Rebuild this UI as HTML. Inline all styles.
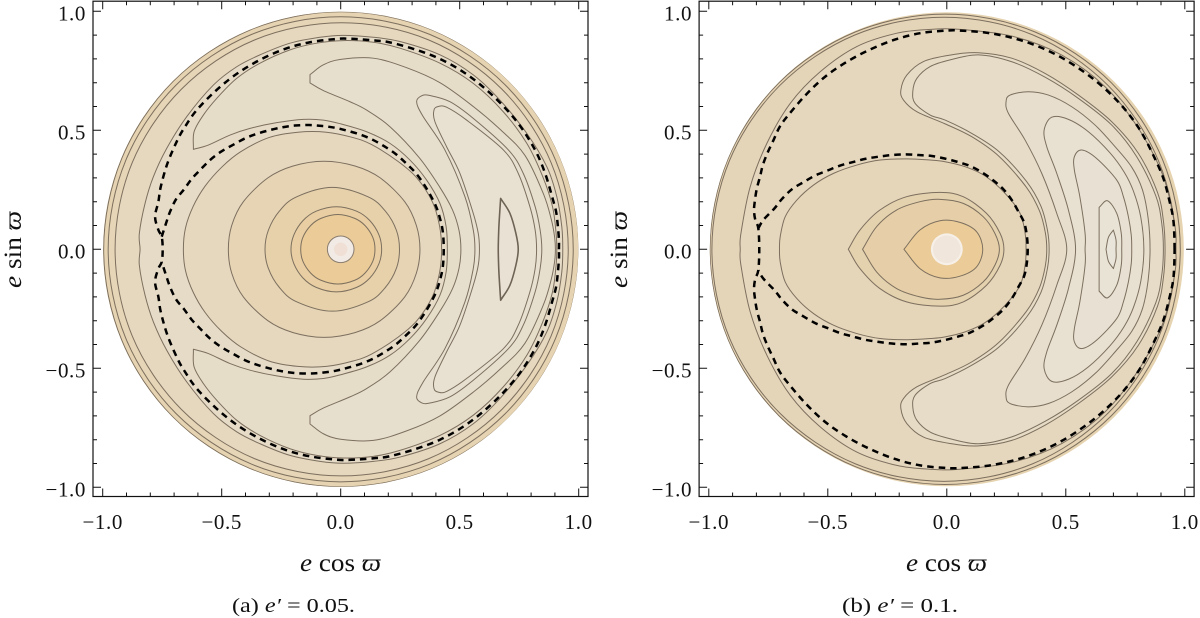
<!DOCTYPE html>
<html lang="en">
<head>
<meta charset="utf-8">
<title>Contour plots of e cos ϖ vs e sin ϖ</title>
<style>
html,body{margin:0;padding:0;background:#fff;width:1200px;height:618px;overflow:hidden}
svg{display:block}
text{font-family:"Liberation Serif","DejaVu Serif",serif;fill:#111}
</style>
</head>
<body>
<svg id="chart" xmlns="http://www.w3.org/2000/svg" width="1200" height="618" viewBox="0 0 1200 618">
  <defs>
    <clipPath id="disc-a"><circle cx="340.7" cy="249.3" r="237.6"/></clipPath>
    <clipPath id="disc-b"><circle cx="946.8" cy="249.3" r="237"/></clipPath>
  </defs>
  <g id="panel-a"></g>
  <g id="panel-b"></g>
  <text x="300" y="571" font-size="25" textLength="81" lengthAdjust="spacingAndGlyphs"><tspan font-style="italic">e</tspan> cos <tspan font-style="italic">ϖ</tspan></text>
  <text x="906" y="571" font-size="25" textLength="81" lengthAdjust="spacingAndGlyphs"><tspan font-style="italic">e</tspan> cos <tspan font-style="italic">ϖ</tspan></text>
  <text transform="translate(21,288) rotate(-90)" font-size="25" textLength="77" lengthAdjust="spacingAndGlyphs"><tspan font-style="italic">e</tspan> sin <tspan font-style="italic">ϖ</tspan></text>
  <text transform="translate(627,288) rotate(-90)" font-size="25" textLength="77" lengthAdjust="spacingAndGlyphs"><tspan font-style="italic">e</tspan> sin <tspan font-style="italic">ϖ</tspan></text>
  <text x="232" y="612" font-size="20" textLength="123" lengthAdjust="spacingAndGlyphs">(a) <tspan font-style="italic">e′</tspan> = 0.05.</text>
  <text x="842" y="612" font-size="20" textLength="116" lengthAdjust="spacingAndGlyphs">(b) <tspan font-style="italic">e′</tspan> = 0.1.</text>
</svg>
<script>
// ---- Axis data ----
const tickValues = [-1,-0.9,-0.8,-0.7,-0.6,-0.5,-0.4,-0.3,-0.2,-0.1,0,0.1,0.2,0.3,0.4,0.5,0.6,0.7,0.8,0.9,1];
const labelValues = [-1,-0.5,0,0.5,1];
const tickLabels = ['\u22121.0','\u22120.5','0.0','0.5','1.0'];

// ---- Panel (a) e' = 0.05: upper-half contours in data units [e cos w, e sin w] ----
const aRim = [[1,0],[.924,.382],[.708,.706],[.384,.922],[.002,.998],[-.38,.922],[-.704,.706],[-.92,.382],[-.996,0]];
const aRing1 = [[.977,0],[.903,.374],[.691,.691],[.374,.903],[0,.977],[-.374,.903],[-.691,.691],[-.903,.374],[-.977,0]];
const aRing2 = [[.956,0],[.884,.364],[.677,.673],[.369,.88],[.004,.952],[-.361,.88],[-.669,.673],[-.876,.364],[-.948,0]];
const aFlank = [[.933,0],[.929,.095],[.908,.221],[.866,.347],[.782,.487],[.669,.627],[.557,.733],[.417,.817],[.249,.873],[.137,.891],[.011,.899],[-.087,.891],[-.213,.866],[-.339,.817],[-.437,.767],[-.535,.69],[-.647,.557],[-.731,.424],[-.787,.305],[-.822,.193],[-.846,.067],[-.843,0]];
const aHorseshoe = [[.448,0],[.443,.095],[.417,.193],[.361,.291],[.291,.375],[.207,.445],[.109,.494],[0,.527],[-.073,.543],[-.157,.546],[-.269,.532],[-.381,.508],[-.465,.48],[-.556,.438],[-.619,.42],[-.619,.42],[-.616,.494],[-.577,.564],[-.521,.634],[-.437,.718],[-.339,.782],[-.213,.838],[-.101,.866],[.011,.877],[.137,.87],[.249,.845],[.417,.782],[.557,.697],[.683,.578],[.782,.445],[.849,.305],[.89,.179],[.905,.067],[.908,0]];
const aTier = [[.505,0],[.497,.08],[.47,.165],[.417,.26],[.33,.385],[.207,.515],[.109,.585],[.039,.62],[-.073,.667],[-.129,.699],[-.129,.699],[-.129,.734],[-.129,.734],[-.073,.775],[0,.798],[.137,.803],[.277,.763],[.417,.7],[.557,.6],[.674,.5],[.774,.395],[.851,.235],[.885,.125],[.899,.05],[.902,0]];
const aCrescentA = [[.564,0],[.557,.081],[.522,.221],[.438,.417],[.345,.56],[.319,.62],[.34,.645],[.375,.646],[.459,.62],[.557,.55],[.705,.417],[.767,.319],[.817,.179],[.838,.081],[.845,0]];
const aCrescentB = [[.583,0],[.578,.067],[.557,.151],[.501,.319],[.445,.431],[.396,.536],[.392,.585],[.41,.6],[.445,.597],[.529,.543],[.684,.417],[.746,.319],[.795,.179],[.817,.081],[.823,0]];
const aLens = [[.662,0],[.664,.08],[.667,.137],[.672,.214],[.672,.214],[.711,.151],[.736,.067],[.746,0]];
const aCore1 = [[-.661,0],[-.652,.09],[-.62,.18],[-.57,.265],[-.5,.345],[-.42,.41],[-.3,.47],[-.18,.492],[-.06,.492],[.05,.47],[.13,.44],[.24,.37],[.32,.3],[.385,.2],[.415,.1],[.424,0]];
const aCore2 = [[-.472,0],[-.458,.1],[-.409,.2],[-.306,.3],[-.2,.35],[-.07,.37],[.06,.35],[.166,.3],[.269,.2],[.318,.1],[.333,0]];
const aCore3 = [[-.318,0],[-.304,.08],[-.258,.16],[-.186,.22],[-.035,.26],[.116,.22],[.188,.16],[.234,.08],[.247,0]];
const aCore4 = [[-.209,0],[-.197,.06],[-.159,.12],[-.103,.16],[-.018,.179],[.067,.16],[.123,.12],[.161,.06],[.172,0]];
const aCore5 = [[-.168,0],[-.159,.05],[-.126,.1],[-.083,.13],[-.012,.146],[.059,.13],[.102,.1],[.135,.05],[.144,0]];
const aSepOuter = [[.917,0],[.917,.039],[.912,.102],[.905,.158],[.891,.211],[.859,.319],[.817,.417],[.754,.518],[.683,.602],[.602,.679],[.515,.745],[.417,.8],[.312,.84],[.204,.87],[.148,.877],[.088,.882],[.036,.885],[-.017,.884],[-.129,.87],[-.234,.842],[-.339,.796],[-.437,.737],[-.524,.667],[-.605,.585],[-.654,.515],[-.686,.459],[-.728,.361],[-.756,.263],[-.766,.2],[-.78,.137],[-.766,.081],[-.752,.053],[-.748,0]];
const aSepInner = [[-.752,.053],[-.734,.109],[-.717,.158],[-.692,.21],[-.658,.252],[-.626,.296],[-.588,.336],[-.549,.375],[-.503,.41],[-.454,.438],[-.402,.466],[-.353,.485],[-.297,.501],[-.244,.513],[-.192,.52],[-.133,.522],[-.076,.518],[-.02,.51],[.032,.497],[.088,.48],[.137,.459],[.186,.431],[.233,.399],[.275,.361],[.314,.322],[.347,.277],[.375,.231],[.401,.179],[.417,.13],[.429,.074],[.433,0]];

// ---- Panel (b) e' = 0.1 ----
const bRing1 = [[.981,0],[.906,.378],[.692,.699],[.371,.913],[-.007,.988],[-.385,.913],[-.706,.699],[-.92,.378],[-.995,0]];
const bRing2 = [[.963,0],[.889,.373],[.677,.689],[.361,.901],[-.012,.975],[-.385,.901],[-.701,.689],[-.913,.373],[-.987,0]];
const bFlank = [[.962,0],[.959,.095],[.91,.305],[.805,.508],[.665,.683],[.483,.816],[.28,.894],[.056,.924],[-.07,.924],[-.21,.908],[-.378,.852],[-.532,.746],[-.658,.613],[-.756,.445],[-.826,.263],[-.865,.067],[-.868,0]];
const bTierOuter = [[.42,0],[.414,.07],[.39,.16],[.335,.26],[.22,.39],[.105,.473],[-.007,.527],[-.126,.578],[-.182,.627],[-.193,.669],[-.168,.732],[-.098,.789],[.014,.816],[.133,.826],[.273,.803],[.413,.739],[.553,.648],[.693,.536],[.805,.403],[.885,.24],[.91,.12],[.917,0]];
const bTierInner = [[.43,0],[.423,.08],[.396,.18],[.335,.285],[.22,.41],[.105,.487],[-.007,.543],[-.07,.564],[-.133,.613],[-.143,.662],[-.126,.718],[-.07,.768],[.014,.796],[.133,.817],[.273,.788],[.413,.723],[.553,.634],[.693,.522],[.798,.389],[.878,.225],[.903,.11],[.91,0]];
const bLobe1 = [[.504,0],[.462,.151],[.399,.319],[.329,.459],[.259,.571],[.249,.62],[.266,.648],[.343,.662],[.427,.648],[.525,.599],[.623,.522],[.707,.431],[.777,.345],[.822,.25],[.846,.13],[.854,0]];
const bLobe2 = [[.541,0],[.511,.165],[.462,.319],[.42,.431],[.409,.501],[.441,.555],[.511,.546],[.595,.494],[.686,.405],[.745,.325],[.784,.245],[.815,.135],[.828,0]];
const bLobe3 = [[.581,0],[.581,.067],[.559,.221],[.536,.333],[.536,.389],[.567,.417],[.629,.382],[.714,.291],[.742,.221],[.763,.137],[.775,.06],[.777,0]];
const bLobe4 = [[.64,0],[.64,.095],[.64,.176],[.64,.176],[.675,.204],[.714,.151],[.733,.067],[.735,0]];
const bLobe5 = [[.669,0],[.669,0],[.679,.05],[.7,.081],[.7,.081],[.711,.039],[.711,0]];
const bCore0 = [[-.703,0],[-.7,.053],[-.679,.137],[-.63,.207],[-.56,.27],[-.476,.319],[-.378,.354],[-.28,.375],[-.168,.38],[-.07,.375],[-.007,.368],[.077,.347],[.161,.308],[.245,.235],[.308,.151],[.329,.067],[.333,0]];
const bCore1 = [[-.414,0],[-.414,0],[-.365,.081],[-.281,.165],[-.169,.221],[-.029,.239],[.069,.221],[.167,.151],[.224,.067],[.24,0]];
const bCore2 = [[-.354,0],[-.354,0],[-.295,.095],[-.211,.165],[-.113,.2],[-.029,.21],[.069,.193],[.153,.137],[.202,.067],[.221,0]];
const bCore3 = [[-.18,0],[-.18,0],[-.113,.081],[-.029,.12],[.055,.113],[.125,.074],[.151,0]];
const bSepOuter = [[.957,0],[.955,.081],[.95,.137],[.938,.193],[.91,.298],[.864,.403],[.812,.501],[.745,.592],[.665,.674],[.578,.744],[.483,.805],[.385,.852],[.28,.887],[.168,.91],[.056,.919],[0,.919],[-.112,.908],[-.221,.88],[-.325,.838],[-.423,.786],[-.514,.723],[-.595,.646],[-.669,.56],[-.703,.513],[-.728,.459],[-.753,.406],[-.773,.354],[-.784,.308],[-.798,.256],[-.806,.207],[-.81,.165],[-.805,.125],[-.792,.088],[-.788,0]];
const bSepInner = [[-.792,.088],[-.771,.123],[-.724,.172],[-.693,.211],[-.651,.252],[-.602,.282],[-.553,.31],[-.501,.331],[-.448,.352],[-.396,.366],[-.343,.38],[-.287,.389],[-.231,.396],[-.172,.399],[-.119,.396],[-.063,.392],[-.007,.381],[.046,.367],[.098,.35],[.15,.322],[.196,.289],[.238,.252],[.273,.207],[.301,.158],[.325,.112],[.336,.06],[.34,0]];

const holeRadiusA = 0.056;
const holeRadiusB = 0.067;

// ---- Axis functions ----
const SCALE = 238;
const Y0 = 249.3;
function xScale(cx, v){ return cx + SCALE * v; }
function yScale(v){ return Y0 - SCALE * v; }

const SVGNS = 'http://www.w3.org/2000/svg';
function mk(tag, attrs, parent){
  const el = document.createElementNS(SVGNS, tag);
  for (const k in attrs) el.setAttribute(k, attrs[k]);
  parent.appendChild(el);
  return el;
}
function mirror(p){ return [p[0], -p[1]]; }
function fullClosed(pts){ return pts.concat(pts.slice(1,-1).reverse().map(mirror)); }
function fullOpen(pts){ return pts.concat(pts.slice(0,-1).reverse().map(mirror)); }
function same(a,b){ return a[0]===b[0] && a[1]===b[1]; }
function spline(cx, pts, closed){
  const P = pts.map(p => [xScale(cx,p[0]), yScale(p[1])]);
  const n = P.length;
  const at = i => closed ? P[(i+n)%n] : P[Math.max(0,Math.min(n-1,i))];
  let d = 'M' + P[0][0].toFixed(2) + ' ' + P[0][1].toFixed(2);
  const last = closed ? n : n-1;
  for (let i=0;i<last;i++){
    const p0=at(i-1),p1=at(i),p2=at(i+1),p3=at(i+2);
    if (same(p1,p2)) continue;
    const c1 = same(p0,p1)
      ? [p1[0]+(p2[0]-p1[0])/3, p1[1]+(p2[1]-p1[1])/3]
      : [p1[0]+(p2[0]-p0[0])/6, p1[1]+(p2[1]-p0[1])/6];
    const c2 = same(p2,p3)
      ? [p2[0]-(p2[0]-p1[0])/3, p2[1]-(p2[1]-p1[1])/3]
      : [p2[0]-(p3[0]-p1[0])/6, p2[1]-(p3[1]-p1[1])/6];
    d+='C'+c1[0].toFixed(2)+' '+c1[1].toFixed(2)+' '+c2[0].toFixed(2)+' '+c2[1].toFixed(2)+' '+p2[0].toFixed(2)+' '+p2[1].toFixed(2);
  }
  return d + (closed ? 'Z' : '');
}

function drawAxes(g, cx, suffix){
  const left = cx - 247.7, right = cx + 247.3, top = 1.2, bottom = 496.5;
  tickValues.forEach(v => {
    const major = labelValues.indexOf(v) >= 0;
    const len = major ? 8 : 4;
    const x = xScale(cx, v), y = yScale(v);
    const t1 = mk('path', {d:'M'+x+' '+bottom+'V'+(bottom-len)+'M'+x+' '+top+'V'+(top+len)+'M'+left+' '+y+'H'+(left+len)+'M'+right+' '+y+'H'+(right-len), stroke:'#111', 'stroke-width':'1', fill:'none'}, g);
    
    
  });
  const frame = mk('rect', {x:left, y:top, width:right-left, height:bottom-top, fill:'none', stroke:'#111', 'stroke-width':'1.2'}, g);
  
  
  labelValues.forEach((v,i) => {
    const tx = mk('text', {x:xScale(cx,v), y:529, 'font-size':'21', 'text-anchor':'middle', 'letter-spacing':'.6'}, g);
    tx.textContent = tickLabels[i];
    
    
    const ty = mk('text', {x:left-7, y:yScale(v)+9, 'font-size':'21', 'text-anchor':'end', 'letter-spacing':'.6'}, g);
    ty.textContent = tickLabels[i];
    
    
  });
}

function drawContour(g, cx, pts, fill, width, stroke){
  const c = mk('path', {d:spline(cx, fullClosed(pts), true), fill:fill, stroke:stroke||'#7c6f5e', 'stroke-width':width||1, 'stroke-linejoin':'round'}, g);
  
  
  return c;
}
function drawSeparatrix(g, cx, pts, closed){
  const full = closed ? fullClosed(pts) : fullOpen(pts);
  const s = mk('path', {d:spline(cx, full, closed), fill:'none', stroke:'#000', 'stroke-width':'2.5', 'stroke-dasharray':'6.5 5'}, g);
  
  
}
function drawHole(g, cx, r, ringFill, ringStroke, coreR, coreFill){
  const ring = mk('circle', {cx:xScale(cx,0), cy:yScale(0), r:r*SCALE, fill:ringFill, stroke:ringStroke, 'stroke-width':'1'}, g);
  
  
  const core = mk('circle', {cx:xScale(cx,0), cy:yScale(0), r:coreR*SCALE, fill:coreFill, stroke:'none'}, g);
  
  
}

// Panel (a)
(function(){
  const cx = 340.7;
  const g = document.getElementById('panel-a');
  const disc = mk('circle', {cx:cx, cy:Y0, r:237.6, fill:'#E6D3B1'}, g);
  
  
  const c = mk('g', {'clip-path':'url(#disc-a)'}, g);
  
  
  drawContour(c,cx,aRim,'#E6D3B1');
  drawContour(c,cx,aRing1,'#E6D5B6');
  drawContour(c,cx,aRing2,'#E6D8BE');
  drawContour(c,cx,aFlank,'#E6DBC6');
  drawContour(c,cx,aHorseshoe,'#E6DDC9');
  drawContour(c,cx,aTier,'#E7DFCE');
  drawContour(c,cx,aCrescentA,'#E7E0D0');
  drawContour(c,cx,aCrescentB,'#E8E1D2');
  drawContour(c,cx,aLens,'#E9E2D4',1.6,'#6e6354');
  drawContour(c,cx,aCore1,'#E6D8BF');
  drawContour(c,cx,aCore2,'#E6D4B5');
  drawContour(c,cx,aCore3,'#E6D1AB');
  drawContour(c,cx,aCore4,'#E8CEA2');
  drawContour(c,cx,aCore5,'#EBCC99');
  drawHole(c,cx,holeRadiusA,'#F2EAE4','#8a7d6e',0.028,'#EFDFD4');
  drawSeparatrix(c,cx,aSepOuter,true);
  drawSeparatrix(c,cx,aSepInner,false);
  drawAxes(g,cx,'a');
})();

// Panel (b)
(function(){
  const cx = 946.8;
  const g = document.getElementById('panel-b');
  const disc = mk('circle', {cx:cx, cy:Y0, r:237, fill:'#E6D3B0'}, g);
  
  
  const c = mk('g', {'clip-path':'url(#disc-b)'}, g);
  
  
  drawContour(c,cx,bRing1,'#E5D3B3');
  drawContour(c,cx,bRing2,'#E5D5B8');
  drawContour(c,cx,bFlank,'#E5D7BD');
  drawContour(c,cx,bTierOuter,'#E6DBC5');
  drawContour(c,cx,bTierInner,'#E6DCC8');
  drawContour(c,cx,bLobe1,'#E7DECD');
  drawContour(c,cx,bLobe2,'#E8E0D0');
  drawContour(c,cx,bLobe3,'#E8E1D3');
  drawContour(c,cx,bLobe4,'#E9E3D6');
  drawContour(c,cx,bLobe5,'#EAE5DA');
  drawContour(c,cx,bCore0,'#E5D5B9');
  drawContour(c,cx,bCore1,'#E4D1AE');
  drawContour(c,cx,bCore2,'#E6CFA8');
  drawContour(c,cx,bCore3,'#EBCC98');
  drawHole(c,cx,holeRadiusB,'#F6F0E8','none',0.058,'#F0E6DC');
  drawSeparatrix(c,cx,bSepOuter,true);
  drawSeparatrix(c,cx,bSepInner,false);
  drawAxes(g,cx,'b');
})();
</script>
</body>
</html>
